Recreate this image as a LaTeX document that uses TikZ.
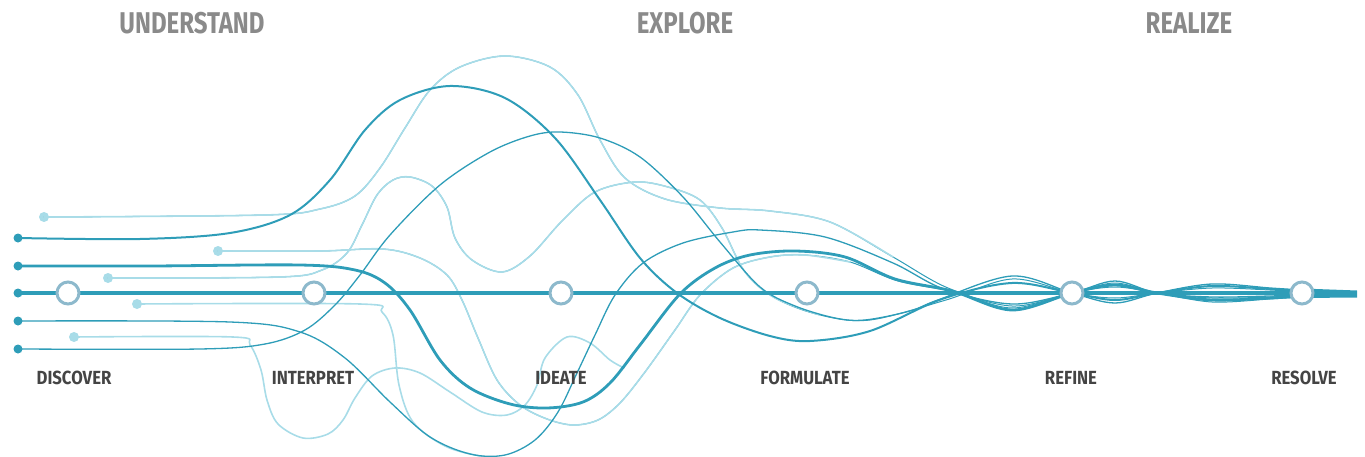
\documentclass[tikz,border=0pt]{standalone}
\usepackage{fontspec}
\newfontfamily\labfont{Fira Sans}[FakeStretch=0.88]
\newfontfamily\headfont{Fira Sans}[FakeStretch=0.8]
\definecolor{cdark}{HTML}{2E9DB8}
\definecolor{cmid}{HTML}{6CBDD2}
\definecolor{clight}{HTML}{A8DCE8}
\definecolor{cring}{HTML}{8DB9CC}
\definecolor{ctext}{HTML}{444444}
\definecolor{chead}{HTML}{8A8A8A}
\tikzset{
  dk/.style={draw=cdark, line cap=round, line join=round},
  lt/.style={draw=clight, line cap=round, line join=round, line width=1.6pt},
  dotd/.style={circle, fill=cdark, inner sep=0pt, minimum size=9pt},
  dotl/.style={circle, fill=clight, inner sep=0pt, minimum size=10pt},
  stage/.style={circle, draw=cring, fill=white, line width=3pt, minimum size=22pt, inner sep=0pt},
  lab/.style={text=ctext, inner sep=0pt, font=\labfont\bfseries\fontsize{19}{19}\selectfont},
  head/.style={text=chead, inner sep=0pt, font=\headfont\bfseries\fontsize{30}{30}\selectfont},
  sm/.style={smooth, tension=0.55}
}
\begin{document}
\begin{tikzpicture}[x=1pt,y=-1pt]
\useasboundingbox (0,0) rectangle (1365,457);
% stage positions
\coordinate (pDis) at (68,293);
\coordinate (pInt) at (314,293);
\coordinate (pIde) at (561,293);
\coordinate (pFor) at (807,293);
\coordinate (pRef) at (1072,293);
\coordinate (pRes) at (1302,293);
% start dots
\node[dotd] (d1) at (18,238) {};
\node[dotd] (d2) at (18,266) {};
\node[dotd] (m0) at (18,293) {};
\node[dotd] (d4) at (18,321) {};
\node[dotd] (d5) at (18,349) {};
\node[dotl] (l1) at (44,217) {};
\node[dotl] (l2) at (218,251) {};
\node[dotl] (l3) at (108,278) {};
\node[dotl] (l4) at (137,304) {};
\node[dotl] (l5) at (74,337) {};
% full paths of the light curves, drawn thin and dark (their right ends)
\draw[dk, line width=1pt] plot[sm] coordinates {(l1.center) (265,215) (320,209) (355,196) (380,168) (405,128) (430,90) (460,67) (505,56) (550,67) (578,95) (600,140) (625,178) (665,199) (720,208) (770,211) (830,222) (893,257) (948,288) (1012,306) (pRef) (1115,283) (1157,293) (1212,298) (1270,297) (1302,295)};
\draw[dk, line width=1pt] plot[sm] coordinates {(l2.center) (320,251) (383,249) (420,258) (447,275) (462,300) (478,338) (497,380) (520,405) (547,419) (573,425) (598,420) (620,403) (645,372) (675,330) (700,295) (733,268) (770,257) (805,255) (850,262) (898,281) (955,292) (1012,308) (pRef) (1115,287) (1157,293) (1212,302) (1270,299) (1302,297)};
\draw[dk, line width=1pt] plot[sm] coordinates {(l3.center) (280,277) (322,270) (347,253) (362,225) (377,195) (393,180) (410,177) (432,186) (447,207) (455,238) (472,260) (502,272) (530,256) (562,221) (595,192) (635,182) (668,187) (700,200) (722,228) (745,272) (775,298) (820,315) (870,320) (946,300) (1012,279) (pRef) (1115,298) (1157,293) (1212,288) (1270,290) (1302,292)};
% light parts
\draw[lt] plot[sm] coordinates {(l1.center) (265,215) (320,209) (355,196) (380,168) (405,128) (430,90) (460,67) (505,56) (550,67) (578,95) (600,140) (625,178) (665,199) (720,208) (770,211) (830,222) (893,257)};
\draw[lt] plot[sm] coordinates {(l2.center) (320,251) (383,249) (420,258) (447,275) (462,300) (478,338) (497,380) (520,405) (547,419) (573,425) (598,420) (620,403) (645,372) (675,330) (700,295) (733,268) (770,257) (805,255) (850,262)};
\draw[lt] plot[sm] coordinates {(l3.center) (280,277) (322,270) (347,253) (362,225) (377,195) (393,180) (410,177) (432,186) (447,207) (455,238) (472,260) (502,272) (530,256) (562,221) (595,192) (635,182) (668,187) (700,200) (722,228) (745,272) (775,298) (820,315)};
\draw[lt] plot[sm] coordinates {(l4.center) (360,304) (382,312) (393,335) (399,385) (413,422) (445,446) (480,456) (520,462)};
\draw[lt] plot[sm] coordinates {(l5.center) (233,337) (250,345) (261,370) (267,400) (278,424) (303,438) (328,434) (343,420) (355,398) (372,376) (395,368) (420,373) (450,392) (482,412) (507,415) (525,405) (537,385) (545,358) (567,337) (590,343) (610,360) (624,368)};
% dark curves
\draw[dk, line width=2pt] plot[sm] coordinates {(d1.center) (140,239) (230,233) (290,215) (330,180) (365,130) (400,100) (450,86) (505,98) (555,138) (600,200) (640,258) (677,293) (720,318) (770,336) (810,341) (870,331) (942,299) (1012,283) (pRef) (1115,300) (1157,293) (1212,286) (1270,289) (1302,291)};
\draw[dk, line width=2.8pt] plot[sm] coordinates {(d2.center) (150,266) (300,265) (355,270) (385,283) (410,310) (440,360) (470,388) (510,404) (547,408) (583,402) (610,383) (640,345) (680,294) (715,268) (750,255) (795,251) (845,257) (895,279) (952,291) (1012,310) (pRef) (1115,285) (1157,293) (1212,300) (1270,298) (1302,296)};
\draw[dk, line width=1.3pt] plot[sm] coordinates {(d4.center) (230,322) (300,332) (345,358) (390,402) (430,437) (470,454) (505,455) (535,440) (558,412) (577,373) (595,335) (615,295) (643,263) (683,243) (733,232) (760,230) (825,237) (893,263) (944,289) (1012,304) (pRef) (1115,281) (1157,293) (1212,297) (1270,296) (1302,295)};
\draw[dk, line width=1.3pt] plot[sm] coordinates {(d5.center) (200,349) (265,344) (305,330) (335,305) (360,275) (390,235) (440,185) (490,152) (530,136) (560,132) (600,138) (640,157) (683,197) (720,242) (760,287) (795,306) (835,318) (865,320) (910,311) (938,300) (1012,276) (pRef) (1115,303) (1157,293) (1212,284) (1270,288) (1302,290)};
% main line and end band
\draw[dk, line width=3.5pt] (m0.center) -- (pRes);
\fill[cdark] (1302,288.5) -- (1357,290.5) -- (1357,297.5) -- (1302,298) -- cycle;
% stage circles
\node[stage] (discover) at (pDis) {};
\node[stage] (interpret) at (pInt) {};
\node[stage] (ideate) at (pIde) {};
\node[stage] (formulate) at (pFor) {};
\node[stage] (refine) at (pRef) {};
\node[stage] (resolve) at (pRes) {};
% labels
\node[lab] (tDis) at (74,378) {DISCOVER};
\node[lab] (tInt) at (313,378) {INTERPRET};
\node[lab] (tIde) at (561,378) {IDEATE};
\node[lab] (tFor) at (805,378) {FORMULATE};
\node[lab] (tRef) at (1071,378) {REFINE};
\node[lab] (tRes) at (1304,378) {RESOLVE};
\node[head] (hU) at (192,23) {UNDERSTAND};
\node[head] (hE) at (685,23) {EXPLORE};
\node[head] (hR) at (1189,23) {REALIZE};
\end{tikzpicture}
\end{document}
